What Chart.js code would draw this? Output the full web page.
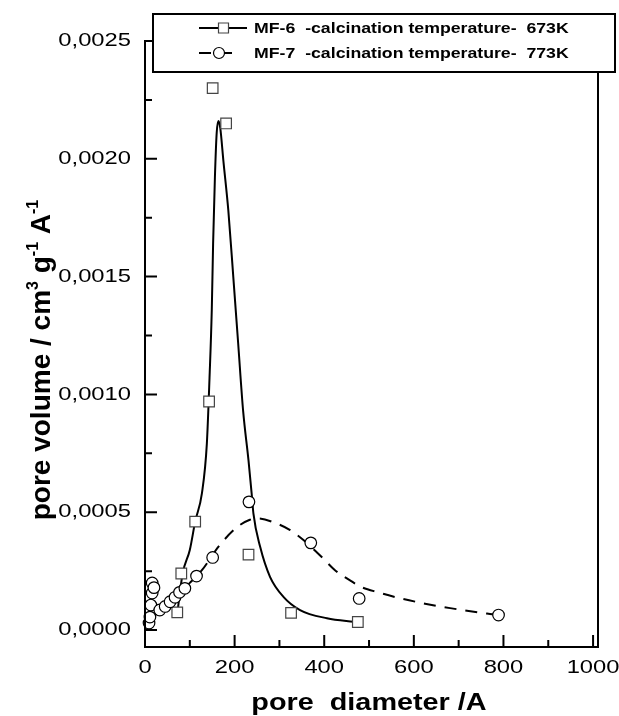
<!DOCTYPE html>
<html>
<head>
<meta charset="utf-8">
<script src="https://cdn.jsdelivr.net/npm/chart.js@4"></script>
<style>
  html, body { margin: 0; padding: 0; background: #fff; }
  #wrap { width: 619px; height: 716px; }
</style>
</head>
<body>
<div id="wrap"><canvas id="chart" width="619" height="716"></canvas></div>
<script>
// measured points, MF-6 (squares)
const mf6X = [72, 81, 112, 143, 151, 181, 231, 326, 475];
const mf6Y = [0.000075, 0.00024, 0.00046, 0.00097, 0.0023, 0.00215, 0.00032, 0.000073, 0.000034];

// measured points, MF-7 (circles)
const mf7X = [9, 11, 13, 16, 16, 20, 33, 45, 56, 67, 77, 89, 115, 151, 232, 370, 478, 789];
const mf7Y = [0.00003, 0.000055, 0.000106, 0.000157, 0.0002, 0.00018, 0.000085, 0.0001, 0.00012, 0.000139, 0.00016, 0.000177, 0.000229, 0.000308, 0.000544, 0.00037, 0.000134, 0.0000636];

// fitted curves
const fit6X = [72, 84, 100, 112, 127, 138, 144, 149, 152, 156, 160, 164, 168, 175, 186, 197, 208, 219, 231, 238, 242, 257, 279, 309, 346, 406, 465, 475];
const fit6Y = [0.00007, 0.00024, 0.00034, 0.00046, 0.00058, 0.00079, 0.00107, 0.001356, 0.00164, 0.00192, 0.00211, 0.00216, 0.00213, 0.00199, 0.00178, 0.0015, 0.001215, 0.00093, 0.00072, 0.00058, 0.000494, 0.000353, 0.000226, 0.000141, 0.000085, 0.00005, 0.000035, 0.000033];

const fit7X = [20, 40, 70, 100, 127, 165, 205, 234, 252, 294, 324, 355, 397, 424, 464, 480, 520, 569, 625, 681, 763, 788];
const fit7Y = [0.00006, 0.00009, 0.000145, 0.0002, 0.000254, 0.000356, 0.000436, 0.000468, 0.000474, 0.000452, 0.000424, 0.00038, 0.000305, 0.000254, 0.000203, 0.000185, 0.00016, 0.000135, 0.000112, 0.000093, 0.00007, 0.000064];

const seriesNames = ['MF-6  -calcination temperature-  673K', 'MF-7  -calcination temperature-  773K'];

const yTicks = [0, 0.0005, 0.001, 0.0015, 0.002, 0.0025];
const yTickLabels = ['0,0000', '0,0005', '0,0010', '0,0015', '0,0020', '0,0025'];
const yMinorTicks = [0.00025, 0.00075, 0.00125, 0.00175, 0.00225];
const xTicks = [0, 200, 400, 600, 800, 1000];
const xTickLabels = ['0', '200', '400', '600', '800', '1000'];
const xMinorTicks = [100, 300, 500, 700, 900];

const fam = '"Liberation Sans", Arial, Helvetica, sans-serif';

function toPts(xs, ys) {
  return xs.map((x, i) => ({ x: x, y: ys[i] }));
}

function stretchText(ctx, text, x, y, font, align, sx) {
  ctx.save();
  ctx.font = font;
  ctx.textBaseline = 'middle';
  ctx.textAlign = align;
  ctx.translate(x, y);
  ctx.scale(sx, 1);
  ctx.fillText(text, 0, 0);
  ctx.restore();
}

const framePlugin = {
  id: 'frame',
  afterDraw(chart) {
    const ctx = chart.ctx;
    const a = chart.chartArea;
    const xs = chart.scales.x, ys = chart.scales.y;
    ctx.save();
    ctx.fillStyle = '#000';
    ctx.strokeStyle = '#000';
    ctx.lineWidth = 2;
    ctx.strokeRect(a.left, a.top, a.right - a.left, a.bottom - a.top);

    // inward ticks
    ctx.beginPath();
    yTicks.forEach(v => { const p = ys.getPixelForValue(v); ctx.moveTo(a.left, p); ctx.lineTo(a.left + 12, p); });
    yMinorTicks.forEach(v => { const p = ys.getPixelForValue(v); ctx.moveTo(a.left, p); ctx.lineTo(a.left + 7, p); });
    xTicks.forEach(v => { const p = xs.getPixelForValue(v); ctx.moveTo(p, a.bottom); ctx.lineTo(p, a.bottom - 12); });
    xMinorTicks.forEach(v => { const p = xs.getPixelForValue(v); ctx.moveTo(p, a.bottom); ctx.lineTo(p, a.bottom - 7); });
    ctx.stroke();

    // tick labels
    yTicks.forEach((v, i) => stretchText(ctx, yTickLabels[i], 131, ys.getPixelForValue(v), '19px ' + fam, 'right', 1.25));
    xTicks.forEach((v, i) => stretchText(ctx, xTickLabels[i], xs.getPixelForValue(v), 668, '19px ' + fam, 'center', 1.25));

    // x title
    stretchText(ctx, 'pore  diameter /A', 369, 703, 'bold 24px ' + fam, 'center', 1.2);

    // y title with superscripts
    ctx.save();
    ctx.translate(40, 360);
    ctx.rotate(-Math.PI / 2);
    const parts = [['pore volume / cm', 0], ['3', 1], [' g', 0], ['-1', 1], [' A', 0], ['-1', 1]];
    const big = 'bold 28px ' + fam, small = 'bold 16px ' + fam;
    let total = 0;
    parts.forEach(p => { ctx.font = p[1] ? small : big; total += ctx.measureText(p[0]).width; });
    let cx = -total / 2;
    ctx.textBaseline = 'alphabetic';
    ctx.textAlign = 'left';
    parts.forEach(p => {
      ctx.font = p[1] ? small : big;
      ctx.fillText(p[0], cx, p[1] ? -2 : 10);
      cx += ctx.measureText(p[0]).width;
    });
    ctx.restore();

    // legend box
    const lx = 153, ly = 14, lw = 462, lh = 58;
    ctx.fillStyle = '#fff';
    ctx.fillRect(lx, ly, lw, lh);
    ctx.strokeRect(lx, ly, lw, lh);
    const rows = [28, 53];
    chart.data.datasets.filter(d => d.isFit).forEach((d, i) => {
      const y = rows[i];
      ctx.save();
      ctx.strokeStyle = d.borderColor;
      ctx.lineWidth = 2;
      ctx.setLineDash(d.borderDash || []);
      ctx.beginPath();
      ctx.moveTo(199, y);
      ctx.lineTo(i === 0 ? 247 : 241, y);
      ctx.stroke();
      ctx.restore();
      const m = chart.data.datasets.find(s => s.label === d.label && !s.isFit);
      ctx.save();
      ctx.fillStyle = '#fff';
      ctx.strokeStyle = m.borderColor;
      ctx.lineWidth = 1.2;
      ctx.beginPath();
      if (m.pointStyle === 'rect') ctx.rect(218.5, y - 5, 10, 10);
      else ctx.arc(219, y, 5.5, 0, Math.PI * 2);
      ctx.fill();
      ctx.stroke();
      ctx.restore();
      ctx.fillStyle = '#000';
      stretchText(ctx, d.label, 254, y + 1, 'bold 15px ' + fam, 'left', 1.18);
    });
    ctx.restore();
  }
};

new Chart(document.getElementById('chart'), {
  type: 'line',
  data: {
    datasets: [
      { label: seriesNames[0], isFit: true, data: toPts(fit6X, fit6Y), borderColor: '#000', borderWidth: 2,
        pointRadius: 0, cubicInterpolationMode: 'monotone', order: 2 },
      { label: seriesNames[1], isFit: true, data: toPts(fit7X, fit7Y), borderColor: '#000', borderWidth: 2,
        borderDash: [12, 9], pointRadius: 0, cubicInterpolationMode: 'monotone', order: 2 },
      { label: seriesNames[0], data: toPts(mf6X, mf6Y), showLine: false, pointStyle: 'rect', pointRadius: 7.5,
        pointBackgroundColor: '#fff', borderColor: '#444', pointBorderWidth: 1.2, order: 1, clip: false },
      { label: seriesNames[1], data: toPts(mf7X, mf7Y), showLine: false, pointStyle: 'circle', pointRadius: 5.8,
        pointBackgroundColor: '#fff', borderColor: '#000', pointBorderWidth: 1.2, order: 0, clip: false }
    ]
  },
  options: {
    responsive: false,
    animation: false,
    events: [],
    layout: { padding: { left: 145, top: 41, right: 21, bottom: 69 } },
    plugins: { legend: { display: false }, tooltip: { enabled: false } },
    scales: {
      x: { type: 'linear', min: 0, max: 1011, display: false },
      y: { type: 'linear', min: -0.000072, max: 0.0025, display: false }
    }
  },
  plugins: [framePlugin]
});
</script>
</body>
</html>
